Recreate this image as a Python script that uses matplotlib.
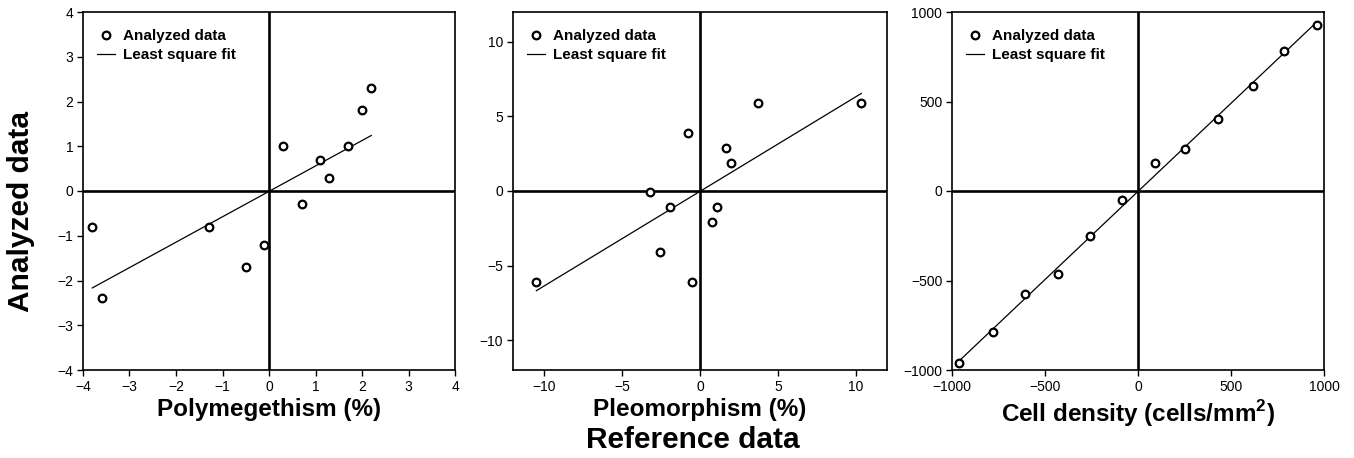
import numpy as np
import matplotlib
matplotlib.use("Agg")
import matplotlib.pyplot as plt

plt.rcParams['font.family'] = ['Liberation Sans', 'DejaVu Sans']
plt.rcParams['mathtext.fontset'] = 'custom'
plt.rcParams['mathtext.bf'] = 'Liberation Sans:bold'
plt.rcParams['mathtext.rm'] = 'Liberation Sans:bold'

# Polymegethism (%)
poly_ref = [-3.8, -3.6, -1.3, -0.5, -0.1, 0.3, 0.7, 1.1, 1.3, 1.7, 2.0, 2.2]
poly_ana = [-0.8, -2.4, -0.8, -1.7, -1.2, 1.0, -0.3, 0.7, 0.3, 1.0, 1.8, 2.3]

# Pleomorphism (%)
pleo_ref = [-10.5, -3.2, -1.9, -2.55, -0.8, -0.5, 0.8, 1.1, 1.65, 2.0, 3.7, 10.35]
pleo_ana = [-6.1, -0.1, -1.1, -4.1, 3.9, -6.1, -2.1, -1.1, 2.9, 1.9, 5.9, 5.9]

# Cell density (cells/mm2)
dens_ref = [-960, -780, -605, -430, -260, -85, 90, 255, 430, 620, 787, 960]
dens_ana = [-963, -790, -575, -465, -250, -52, 155, 237, 403, 586, 780, 927]

panels = [
    (poly_ref, poly_ana, "Polymegethism (%)", (-4, 4), np.arange(-4, 5, 1)),
    (pleo_ref, pleo_ana, "Pleomorphism (%)", (-12, 12), [-10, -5, 0, 5, 10]),
    (dens_ref, dens_ana, r"Cell density (cells/mm$^{\mathbf{2}}$)", (-1000, 1000), [-1000, -500, 0, 500, 1000]),
]
lefts = [83, 513, 952]
widths = [372, 374, 372]

W, H = 1354, 458
fig = plt.figure(figsize=(W / 100, H / 100), dpi=100)

for (xr, ya, xlabel, lim, ticks), left, width in zip(panels, lefts, widths):
    ax = fig.add_axes([left / W, 1 - 370 / H, width / W, 358 / H])
    ax.set_xlim(lim)
    ax.set_ylim(lim)
    ax.axhline(0, color='black', lw=1.9, zorder=1)
    ax.axvline(0, color='black', lw=1.9, zorder=1)

    # least square fit drawn over the range of the reference values
    slope, icpt = np.polyfit(xr, ya, 1)
    xs = np.array([min(xr), max(xr)])
    ax.plot(xr, ya, 'o', ms=5.5, mfc='white', mec='black', mew=1.6,
            label='Analyzed data', zorder=3)
    ax.plot(xs, slope * xs + icpt, color='black', lw=0.9, label='Least square fit', zorder=2)

    ax.set_xticks(ticks)
    ax.set_yticks(ticks)
    ax.tick_params(direction='out', length=4, width=1, labelsize=10, pad=3)
    for s in ax.spines.values():
        s.set_linewidth(1.2)
    ax.set_xlabel(xlabel, fontsize=17.5, fontweight='bold', labelpad=3)
    ax.legend(loc='upper left', bbox_to_anchor=(0.0, 0.99), frameon=False,
              handlelength=1.2, handletextpad=0.5, labelspacing=0.3,
              prop={'weight': 'bold', 'size': 11})

fig.text(21 / W, 1 - 211 / H, "Analyzed data", rotation=90, ha='center', va='center',
         fontsize=21.5, fontweight='bold')
fig.text(693 / W, 1 - 440 / H, "Reference data", ha='center', va='center',
         fontsize=21.5, fontweight='bold')

fig.savefig("out.png", dpi=100)
